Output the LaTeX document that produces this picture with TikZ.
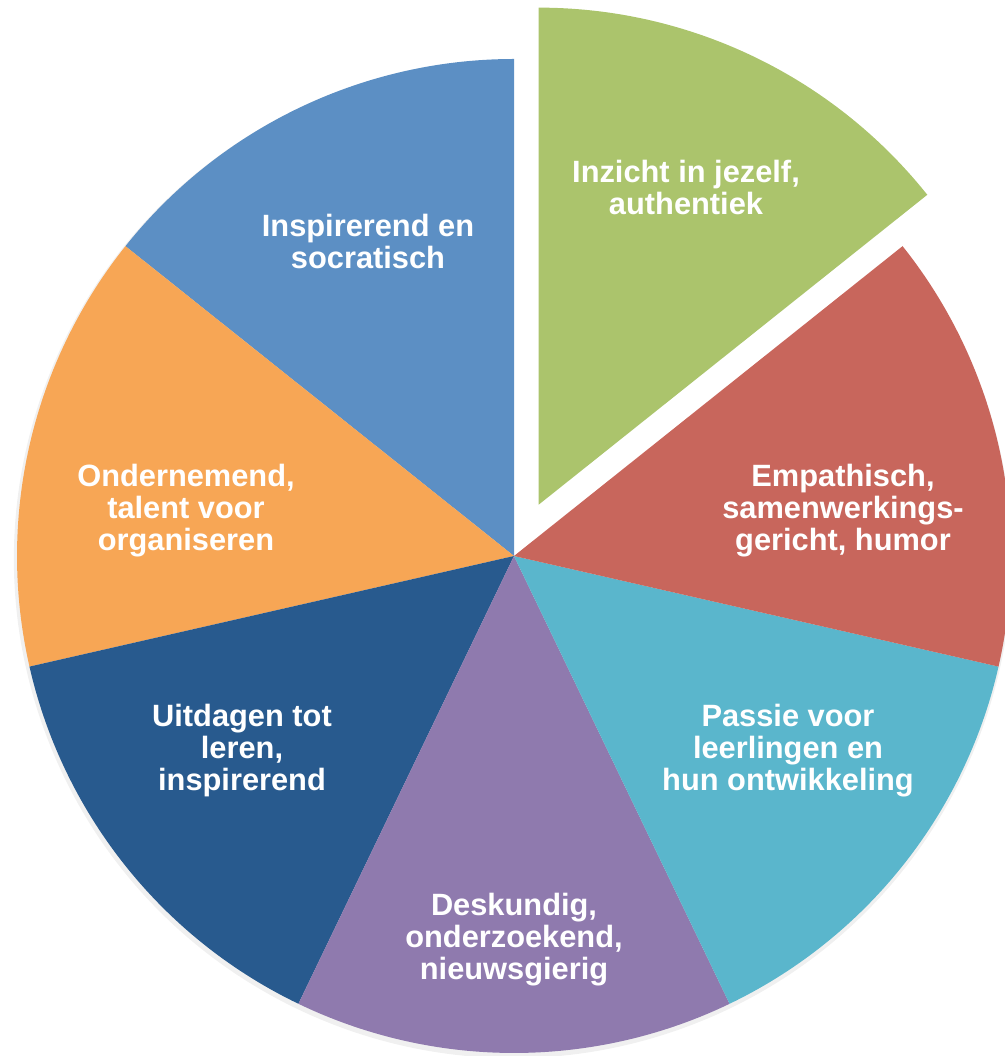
\documentclass[tikz,border=0pt]{standalone}
\usepackage{fontspec}
\setmainfont{Liberation Sans}
\usepackage{xcolor}
\usetikzlibrary{positioning,calc}

\definecolor{pieblue}{HTML}{5C8FC4}
\definecolor{pieorange}{HTML}{F7A655}
\definecolor{piedarkblue}{HTML}{285A8E}
\definecolor{piepurple}{HTML}{8F7AAE}
\definecolor{pieaqua}{HTML}{5AB6CC}
\definecolor{piered}{HTML}{C8665C}
\definecolor{piegreen}{HTML}{ABC46C}

\begin{document}
\begin{tikzpicture}[x=0.5pt,y=0.5pt,
    lbl/.style={text=white,font=\fontsize{15.4}{16}\selectfont\bfseries,align=center,inner sep=0pt}]
    \useasboundingbox (0,0) rectangle (1005,1056);
    \coordinate (C) at (514,500);
    \coordinate (G) at ($(C)+(64.29:57)$);

    % soft shadow under the outer rim
    \fill[black,opacity=0.06] ($(C)+(-1,-3)$) -- ++(110:499) arc[start angle=110, end angle=380, radius=499] -- cycle;

    % slices, counter-clockwise from the top
    \fill[pieblue]     (C) -- ++(90:497)     arc[start angle=90,     end angle=141.43, radius=497] -- cycle;
    \fill[pieorange]   (C) -- ++(141.43:497) arc[start angle=141.43, end angle=192.86, radius=497] -- cycle;
    \fill[piedarkblue] (C) -- ++(192.86:497) arc[start angle=192.86, end angle=244.29, radius=497] -- cycle;
    \fill[piepurple]   (C) -- ++(244.29:497) arc[start angle=244.29, end angle=295.71, radius=497] -- cycle;
    \fill[pieaqua]     (C) -- ++(295.71:497) arc[start angle=295.71, end angle=347.14, radius=497] -- cycle;
    \fill[piered]      (C) -- ++(347.14:497) arc[start angle=347.14, end angle=398.57, radius=497] -- cycle;
    % exploded slice
    \fill[piegreen]    (G) -- ++(38.57:497)  arc[start angle=38.57,  end angle=90,     radius=497] -- cycle;

    \node[lbl] (inzicht)     at (686,869) {Inzicht in jezelf,\\authentiek};
    \node[lbl] (empathisch)  at (843,545) {Empathisch,\\samenwerkings-\\gericht, humor};
    \node[lbl] (passie)      at (788,305) {Passie voor\\leerlingen en\\hun ontwikkeling};
    \node[lbl] (deskundig)   at (514,116) {Deskundig,\\onderzoekend,\\nieuwsgierig};
    \node[lbl] (uitdagen)    at (242,305) {Uitdagen tot\\leren,\\inspirerend};
    \node[lbl] (ondernemend) at (186,545) {Ondernemend,\\talent voor\\organiseren};
    \node[lbl] (inspirerend) at (368,815) {Inspirerend en\\socratisch};
\end{tikzpicture}
\end{document}
